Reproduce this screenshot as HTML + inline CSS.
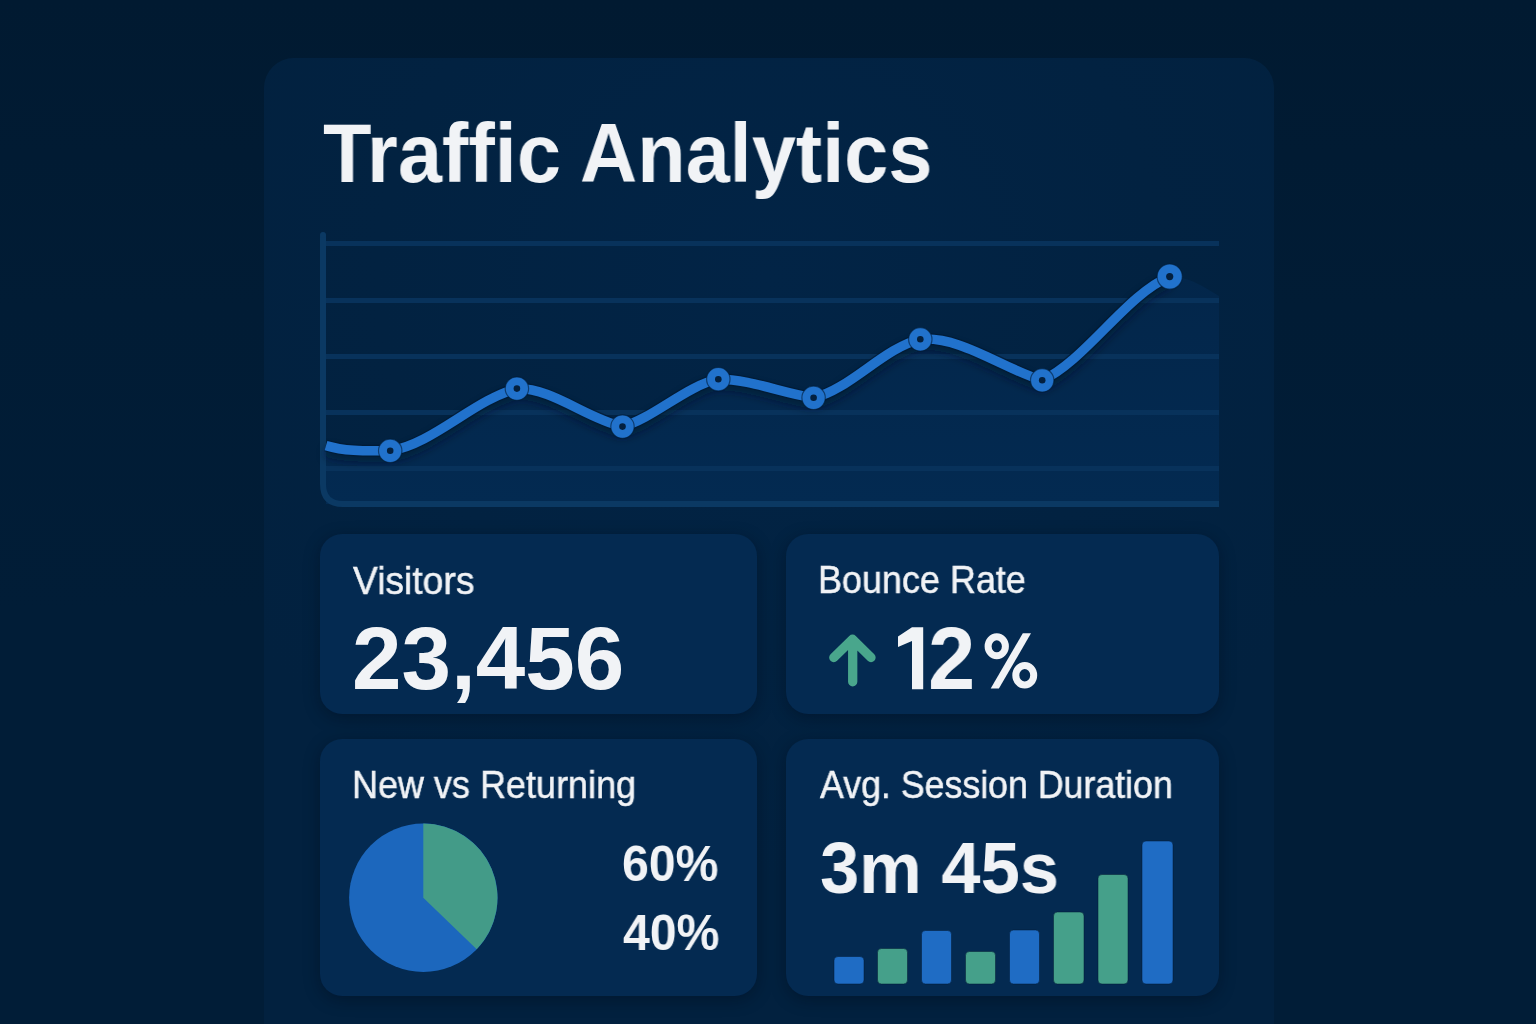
<!DOCTYPE html>
<html>
<head>
<meta charset="utf-8">
<style>
html,body{margin:0;padding:0;}
body{width:1536px;height:1024px;overflow:hidden;position:relative;
  background:linear-gradient(180deg,#011a31 0%,#011c35 30%,#011d37 60%,#011d37 100%);
  font-family:"Liberation Sans",sans-serif;color:#f1f3f6;}
.abs{position:absolute;}
.outer{left:264px;top:58px;width:1010px;height:1040px;border-radius:30px;background:radial-gradient(ellipse 650px 600px at 505px 220px,#022446 0%,#022241 60%,#02213f 100%);}
.card{border-radius:22px;background:#042a51;box-shadow:0 4px 16px rgba(0,8,20,0.35);}
.t{position:absolute;white-space:nowrap;line-height:1;transform-origin:0 0;will-change:transform;-webkit-font-smoothing:antialiased;}
.lab{-webkit-text-stroke:0.5px #f1f3f6;}
</style>
</head>
<body>
<div class="abs outer"></div>

<div class="t" style="left:322.5px;top:111.7px;font-size:83px;font-weight:700;transform:scaleX(0.955)">Traffic Analytics</div>

<svg class="abs" style="left:0;top:0" width="1536" height="1024" viewBox="0 0 1536 1024">
  <defs><linearGradient id="ag" x1="0" y1="270" x2="0" y2="504" gradientUnits="userSpaceOnUse"><stop offset="0" stop-color="#03264a"/><stop offset="1" stop-color="#032a51"/></linearGradient></defs><path fill="url(#ag)" d="M326.0 445.6 C347.4 452.0 368.8 450.8 390.2 450.8 C432.4 444.5 474.7 399.2 516.9 388.6 C552.1 387.9 587.3 418.9 622.5 426.6 C654.4 417.7 686.4 385.6 718.3 379.2 C750.1 379.2 781.8 393.0 813.6 397.8 C849.2 390.0 884.7 347.1 920.3 339.3 C960.9 336.0 1001.6 368.1 1042.2 380.3 C1084.7 361.2 1127.2 293.6 1169.7 276.6 C1190 276.6 1205 288 1219 296 V504 H326 Z"/>
  <g fill="#08325b">
    <rect x="326" y="241" width="893" height="5"/>
    <rect x="326" y="298" width="893" height="5"/>
    <rect x="326" y="354" width="893" height="5"/>
    <rect x="326" y="410" width="893" height="5"/>
    <rect x="326" y="466" width="893" height="5"/>
  </g>
  <path d="M323 235 V484 Q323 504 343 504 H1219" fill="none" stroke="#0b3963" stroke-width="6" stroke-linecap="butt"/>
  <circle cx="323" cy="235" r="3" fill="#0b3963"/>
  <filter id="blur" x="-10%" y="-50%" width="120%" height="200%"><feGaussianBlur stdDeviation="4"/></filter><path fill="none" stroke="#01152b" stroke-opacity="0.55" stroke-width="10" filter="url(#blur)" transform="translate(0,6)" d="M326.0 445.6 C347.4 452.0 368.8 450.8 390.2 450.8 C432.4 444.5 474.7 399.2 516.9 388.6 C552.1 387.9 587.3 418.9 622.5 426.6 C654.4 417.7 686.4 385.6 718.3 379.2 C750.1 379.2 781.8 393.0 813.6 397.8 C849.2 390.0 884.7 347.1 920.3 339.3 C960.9 336.0 1001.6 368.1 1042.2 380.3 C1084.7 361.2 1127.2 293.6 1169.7 276.6"/><path fill="none" stroke="#021a33" stroke-opacity="0.7" stroke-width="12" stroke-linecap="butt" stroke-linejoin="round" d="M326.0 445.6 C347.4 452.0 368.8 450.8 390.2 450.8 C432.4 444.5 474.7 399.2 516.9 388.6 C552.1 387.9 587.3 418.9 622.5 426.6 C654.4 417.7 686.4 385.6 718.3 379.2 C750.1 379.2 781.8 393.0 813.6 397.8 C849.2 390.0 884.7 347.1 920.3 339.3 C960.9 336.0 1001.6 368.1 1042.2 380.3 C1084.7 361.2 1127.2 293.6 1169.7 276.6"/>
  <path fill="none" stroke="#2172cc" stroke-width="9.5" stroke-linecap="butt" stroke-linejoin="round" d="M326.0 445.6 C347.4 452.0 368.8 450.8 390.2 450.8 C432.4 444.5 474.7 399.2 516.9 388.6 C552.1 387.9 587.3 418.9 622.5 426.6 C654.4 417.7 686.4 385.6 718.3 379.2 C750.1 379.2 781.8 393.0 813.6 397.8 C849.2 390.0 884.7 347.1 920.3 339.3 C960.9 336.0 1001.6 368.1 1042.2 380.3 C1084.7 361.2 1127.2 293.6 1169.7 276.6"/>
  <g><circle cx="390.2" cy="450.8" r="11.7" fill="#2172cc" stroke="#021a33" stroke-opacity="0.6" stroke-width="1.2"/><circle cx="390.2" cy="450.8" r="3.3" fill="#03203f"/><circle cx="516.9" cy="388.6" r="11.7" fill="#2172cc" stroke="#021a33" stroke-opacity="0.6" stroke-width="1.2"/><circle cx="516.9" cy="388.6" r="3.3" fill="#03203f"/><circle cx="622.5" cy="426.6" r="11.7" fill="#2172cc" stroke="#021a33" stroke-opacity="0.6" stroke-width="1.2"/><circle cx="622.5" cy="426.6" r="3.3" fill="#03203f"/><circle cx="718.3" cy="379.2" r="11.7" fill="#2172cc" stroke="#021a33" stroke-opacity="0.6" stroke-width="1.2"/><circle cx="718.3" cy="379.2" r="3.3" fill="#03203f"/><circle cx="813.6" cy="397.8" r="11.7" fill="#2172cc" stroke="#021a33" stroke-opacity="0.6" stroke-width="1.2"/><circle cx="813.6" cy="397.8" r="3.3" fill="#03203f"/><circle cx="920.3" cy="339.3" r="11.7" fill="#2172cc" stroke="#021a33" stroke-opacity="0.6" stroke-width="1.2"/><circle cx="920.3" cy="339.3" r="3.3" fill="#03203f"/><circle cx="1042.2" cy="380.3" r="11.7" fill="#2172cc" stroke="#021a33" stroke-opacity="0.6" stroke-width="1.2"/><circle cx="1042.2" cy="380.3" r="3.3" fill="#03203f"/><circle cx="1169.7" cy="276.6" r="12.6" fill="#2172cc" stroke="#021a33" stroke-opacity="0.6" stroke-width="1.2"/><circle cx="1169.7" cy="276.6" r="3.6" fill="#03203f"/></g>
</svg>

<div class="abs card" style="left:320px;top:534px;width:437px;height:180px"></div>
<div class="abs card" style="left:786px;top:534px;width:433px;height:180px"></div>
<div class="abs card" style="left:320px;top:739px;width:437px;height:257px"></div>
<div class="abs card" style="left:786px;top:739px;width:433px;height:257px"></div>

<div class="t lab" style="left:352.7px;top:561.8px;font-size:38px;transform:scaleX(0.98)">Visitors</div>
<div class="t" style="left:351.6px;top:614.3px;font-size:89px;font-weight:700">23,456</div>

<div class="t lab" style="left:818px;top:560.8px;font-size:38px;transform:scaleX(0.946)">Bounce Rate</div>
<svg class="abs" style="left:0;top:0" width="1536" height="1024">
  <path d="M852.7 681.8 V641 M833.8 657.5 L852.5 639.2 L871 657.5" fill="none" stroke="#49a68c" stroke-width="9.3" stroke-linecap="round" stroke-linejoin="round"/>
  <polygon points="898,636.6 912,627.2 923.2,627.2 923.2,689.2 912,689.2 912,641 898,647.1" fill="#f1f3f6"/>
</svg>
<div class="t" style="left:928.1px;top:613.7px;font-size:89px;font-weight:700;transform:scaleX(0.953)">2</div>
<svg class="abs" style="left:0;top:0" width="1536" height="1024">
  <ellipse cx="996.75" cy="646.3" rx="8.65" ry="9.5" fill="none" stroke="#f1f3f6" stroke-width="7"/>
  <ellipse cx="1024.75" cy="675.3" rx="8.95" ry="9.8" fill="none" stroke="#f1f3f6" stroke-width="7"/>
  <polygon points="990.7,688.6 998.9,688.6 1031,633.3 1022.8,633.3" fill="#f1f3f6"/>
</svg>

<div class="t lab" style="left:351.8px;top:765.9px;font-size:38px;transform:scaleX(0.947)">New vs Returning</div>
<svg class="abs" style="left:0;top:0" width="1536" height="1024">
  <circle cx="423.3" cy="897.8" r="74.2" fill="#1c67bd"/>
  <path fill="#439b88" d="M423.3 897.8 V823.5999999999999 A74.2 74.2 0 0 1 476.7 949.3 Z"/>
</svg>
<div class="t" style="left:621.9px;top:839px;font-size:50px;font-weight:700;transform:scaleX(0.965)">60%</div>
<div class="t" style="left:622.9px;top:907.6px;font-size:50px;font-weight:700;transform:scaleX(0.965)">40%</div>

<div class="t lab" style="left:820px;top:766px;font-size:38px;transform:scaleX(0.94)">Avg. Session Duration</div>
<div class="t" style="left:820.4px;top:830.6px;font-size:73px;font-weight:700;transform:scaleX(0.965)">3m 45s</div>
<svg class="abs" style="left:0;top:0" width="1536" height="1024">
  <rect x="834" y="956.5" width="30" height="27.5" rx="4" fill="#1f6cc4" stroke="#021a33" stroke-opacity="0.5" stroke-width="1"/><rect x="877.5" y="948.5" width="30" height="35.5" rx="4" fill="#45a08a" stroke="#021a33" stroke-opacity="0.5" stroke-width="1"/><rect x="921.5" y="930.5" width="30" height="53.5" rx="4" fill="#1f6cc4" stroke="#021a33" stroke-opacity="0.5" stroke-width="1"/><rect x="965.5" y="951.5" width="30" height="32.5" rx="4" fill="#45a08a" stroke="#021a33" stroke-opacity="0.5" stroke-width="1"/><rect x="1009.5" y="930" width="30" height="54" rx="4" fill="#1f6cc4" stroke="#021a33" stroke-opacity="0.5" stroke-width="1"/><rect x="1053.5" y="912" width="30.5" height="72" rx="4" fill="#45a08a" stroke="#021a33" stroke-opacity="0.5" stroke-width="1"/><rect x="1098" y="874.5" width="30" height="109.5" rx="4" fill="#45a08a" stroke="#021a33" stroke-opacity="0.5" stroke-width="1"/><rect x="1142" y="841" width="31" height="143" rx="4" fill="#1f6cc4" stroke="#021a33" stroke-opacity="0.5" stroke-width="1"/>
</svg>
</body>
</html>
